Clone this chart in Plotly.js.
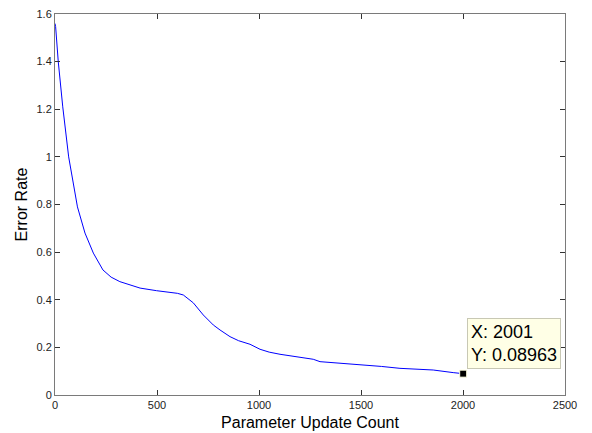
<!DOCTYPE html>
<html>
<head>
<meta charset="utf-8">
<script src="https://cdn.plot.ly/plotly-3.0.1.min.js"></script>
<style>html,body{margin:0;padding:0;background:#fff;}#chart{width:592px;height:433px;}</style>
</head>
<body>
<div id="chart"></div>
<script>
// Values
const updateCount = [0, 3, 16, 38, 67, 90, 110, 147, 188, 235, 275, 318, 417, 498, 564, 600, 629, 652, 678, 727, 776, 809, 858, 900, 956, 1005, 1050, 1103, 1201, 1266, 1299, 1400, 1495, 1600, 1691, 1854, 1952, 2001];
const errorRate   = [1.56, 1.547, 1.40, 1.21, 1.00, 0.88, 0.79, 0.68, 0.596, 0.525, 0.495, 0.476, 0.449, 0.438, 0.430, 0.427, 0.420, 0.405, 0.387, 0.336, 0.294, 0.273, 0.245, 0.228, 0.213, 0.192, 0.180, 0.171, 0.158, 0.150, 0.140, 0.133, 0.129, 0.120, 0.112, 0.105, 0.094, 0.08963];
const tipX = [2001];
const tipY = [0.08963];
const xTicks = [0, 500, 1000, 1500, 2000, 2500];
const yTicks = [0, 0.2, 0.4, 0.6, 0.8, 1, 1.2, 1.4, 1.6];

const font = 'Arial, "Liberation Sans", sans-serif';

const traces = [
  {x: updateCount, y: errorRate, type: 'scatter', mode: 'lines',
   line: {color: '#0000ff', width: 1}, hoverinfo: 'skip'},
  {x: tipX, y: tipY, type: 'scatter', mode: 'markers',
   marker: {symbol: 'square', size: 7, color: '#000000', line: {color: '#ffffe1', width: 1}}, hoverinfo: 'skip'}
];

const axisBase = {
  showgrid: false, zeroline: false, showline: true, mirror: 'ticks',
  linecolor: '#7a7a7a', linewidth: 1, ticks: 'inside', ticklen: 5, tickcolor: '#333',
  tickfont: {family: font, size: 11, color: '#222'}
};

const layout = {
  width: 592, height: 433,
  margin: {l: 55, r: 27, t: 14, b: 38},
  paper_bgcolor: '#ffffff', plot_bgcolor: '#ffffff',
  showlegend: false,
  xaxis: Object.assign({}, axisBase, {
    range: [0, 2500], tickvals: xTicks, ticktext: xTicks.map(String),
    title: {text: 'Parameter Update Count', font: {family: font, size: 16, color: '#000'}, standoff: 6}
  }),
  yaxis: Object.assign({}, axisBase, {
    range: [0, 1.6], tickvals: yTicks, ticktext: yTicks.map(String),
    title: {text: 'Error Rate', font: {family: font, size: 16, color: '#000'}, standoff: 4}
  }),
  annotations: [{
    x: tipX[0], y: tipY[0], xref: 'x', yref: 'y',
    text: 'X: ' + tipX[0] + '<br>Y: ' + tipY[0],
    showarrow: false, xanchor: 'left', yanchor: 'bottom', align: 'left',
    xshift: 4, yshift: 5,
    font: {family: font, size: 18, color: '#000'},
    bgcolor: '#ffffe6', bordercolor: '#c8c8b4', borderwidth: 1, borderpad: 3
  }]
};

Plotly.newPlot('chart', traces, layout, {displayModeBar: false, staticPlot: true});
</script>
</body>
</html>
